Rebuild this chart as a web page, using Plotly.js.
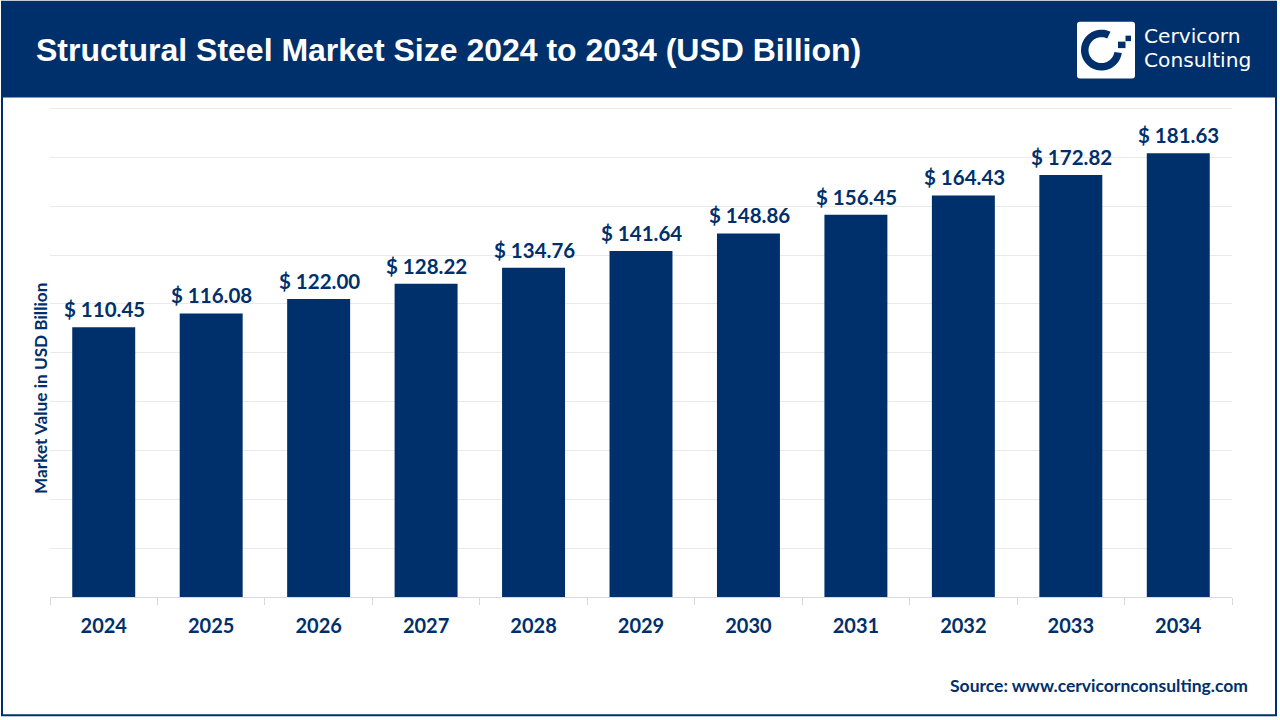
<!DOCTYPE html>
<html><head><meta charset="utf-8">
<script src="https://cdn.plot.ly/plotly-3.0.1.min.js"></script>
<style>html,body{margin:0;padding:0;background:#fff;overflow:hidden}#c{width:1280px;height:720px}</style>
</head><body><div id="c"></div>
<script>
const years = ['2024','2025','2026','2027','2028','2029','2030','2031','2032','2033','2034'];
const values = [110.45,116.08,122.00,128.22,134.76,141.64,148.86,156.45,164.43,172.82,181.63];
const titleText = 'Structural Steel Market Size 2024 to 2034 (USD Billion)';
const yTitleText = 'Market Value in USD Billion';
const sourceText = 'Source: www.cervicornconsulting.com';
const brandLines = ['Cervicorn','Consulting'];

const navy = '#00306B';
const L = 50, R = 1232, T = 105.5, B = 597.5;
const yScale = 2.4475; // pixels per USD billion
const px = x => (x - L) / (R - L);
const py = y => (B - y) / (B - T);
const labelFont = 'Lato, "Open Sans", sans-serif';

// Logo drawing helpers (page pixels converted to paper fractions)
const pt = (x, y) => px(x).toFixed(5) + ',' + py(y).toFixed(5);
function arcBand(cx, cy, r0, r1, a0, a1) {
  const n = 48, p = [];
  for (let i = 0; i <= n; i++) { const a = (a0 + (a1 - a0) * i / n) * Math.PI / 180; p.push(pt(cx + r1 * Math.cos(a), cy + r1 * Math.sin(a))); }
  for (let i = n; i >= 0; i--) { const a = (a0 + (a1 - a0) * i / n) * Math.PI / 180; p.push(pt(cx + r0 * Math.cos(a), cy + r0 * Math.sin(a))); }
  return 'M' + p.join('L') + 'Z';
}
function roundRect(x0, y0, x1, y1, r) {
  return 'M' + pt(x0 + r, y0) + 'L' + pt(x1 - r, y0) + 'Q' + pt(x1, y0) + ' ' + pt(x1, y0 + r) +
    'L' + pt(x1, y1 - r) + 'Q' + pt(x1, y1) + ' ' + pt(x1 - r, y1) +
    'L' + pt(x0 + r, y1) + 'Q' + pt(x0, y1) + ' ' + pt(x0, y1 - r) +
    'L' + pt(x0, y0 + r) + 'Q' + pt(x0, y0) + ' ' + pt(x0 + r, y0) + 'Z';
}
const paperRect = (x0, y0, x1, y1, fill) => ({type: 'rect', xref: 'paper', yref: 'paper',
  x0: px(x0), x1: px(x1), y0: py(y0), y1: py(y1), line: {width: 0}, fillcolor: fill, layer: 'above'});
const paperPath = (path, fill) => ({type: 'path', xref: 'paper', yref: 'paper', path,
  line: {width: 0}, fillcolor: fill, layer: 'above'});

const trace = {
  type: 'bar', x: years, y: values,
  marker: {color: navy, line: {width: 0}},
  width: 0.586,
  hoverinfo: 'x+y'
};

const valueLabels = years.map((yr, i) => ({
  text: '$ ' + values[i].toFixed(2), x: i, y: values[i], xref: 'x', yref: 'y',
  xanchor: 'center', yanchor: 'bottom', yshift: 4, xshift: 0.7, showarrow: false,
  font: {family: labelFont, size: 20.5, color: navy, weight: 700}
}));

const layout = {
  width: 1280, height: 720,
  margin: {l: L, r: 1280 - R, t: T, b: 720 - B, pad: 0},
  paper_bgcolor: '#fff', plot_bgcolor: '#fff',
  showlegend: false,
  xaxis: {
    type: 'category', range: [-0.5, years.length - 0.5], autorange: false,
    tickmode: 'array', tickvals: years, ticktext: years,
    tickson: 'boundaries', ticks: 'outside', ticklen: 7, tickwidth: 1, tickcolor: '#D9D9D9',
    showline: true, linecolor: '#D9D9D9', linewidth: 1, showgrid: false, zeroline: false,
    ticklabelstandoff: 11,
    tickfont: {family: labelFont, size: 20, color: navy, weight: 700}, automargin: false
  },
  yaxis: {
    range: [0, (B - T) / yScale], autorange: false, tickmode: 'linear', tick0: 0, dtick: 20, showticklabels: false, ticks: '',
    showgrid: true, gridcolor: '#E9E9E9', gridwidth: 1, zeroline: false, showline: false,
    automargin: false
  },
  shapes: [
    {type: 'rect', xref: 'paper', yref: 'paper', x0: px(2), x1: px(1276), y0: py(1), y1: py(716),
     line: {color: navy, width: 2}, fillcolor: 'rgba(0,0,0,0)', layer: 'above'},
    paperRect(1, 1, 1277, 97, navy),
    paperPath(roundRect(1077, 21, 1135, 78, 3), '#fff'),
    paperPath(arcBand(1101.5, 49.5, 13, 20.5, 8, 296), navy),
    paperRect(1118, 41, 1125.5, 47.5, navy),
    paperRect(1125.5, 35, 1131, 40.5, navy)
  ],
  annotations: valueLabels.concat([
    {text: titleText, xref: 'paper', yref: 'paper', x: px(34), y: py(49.5), xanchor: 'left', yanchor: 'middle', showarrow: false,
     font: {family: '"Liberation Sans", Arial, sans-serif', size: 32, color: '#fff', weight: 700}},
    {text: brandLines[0], xref: 'paper', yref: 'paper', x: px(1142), y: py(35.5), xanchor: 'left', yanchor: 'middle', showarrow: false,
     font: {family: '"DejaVu Sans", sans-serif', size: 20.2, color: '#fff'}},
    {text: brandLines[1], xref: 'paper', yref: 'paper', x: px(1142), y: py(59.5), xanchor: 'left', yanchor: 'middle', showarrow: false,
     font: {family: '"DejaVu Sans", sans-serif', size: 20.2, color: '#fff'}},
    {text: sourceText, xref: 'paper', yref: 'paper', x: px(1250), y: py(686), xanchor: 'right', yanchor: 'middle', showarrow: false,
     font: {family: labelFont, size: 17.5, color: navy, weight: 700}},
    {text: yTitleText, xref: 'paper', yref: 'paper', x: px(41), y: py(389), xanchor: 'center', yanchor: 'middle', textangle: -90, showarrow: false,
     font: {family: labelFont, size: 17.2, color: navy, weight: 700}}
  ])
};
Plotly.newPlot('c', [trace], layout, {staticPlot: true, displayModeBar: false});
</script></body></html>
